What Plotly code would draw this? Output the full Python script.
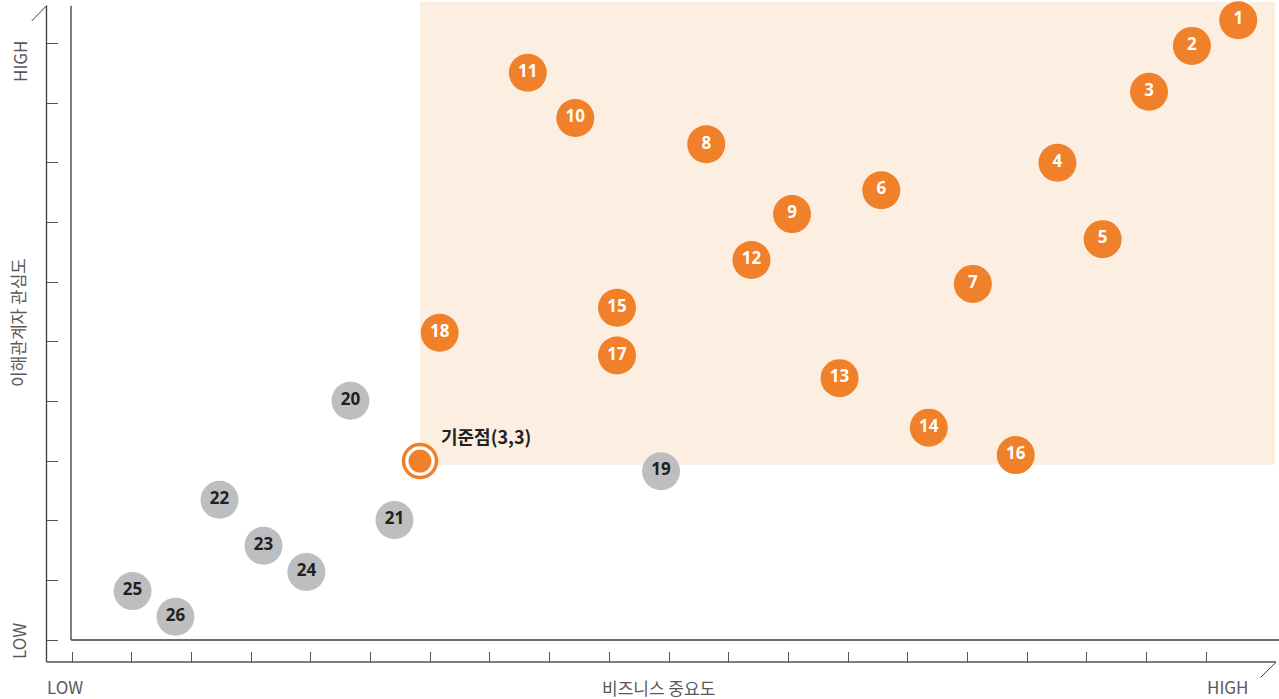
import plotly.graph_objects as go

# ---------------- data ----------------
labels = [str(i) for i in range(1, 27)]
x_vals = [10.06, 9.66, 9.29, 8.50, 8.89, 6.98, 7.77, 5.47, 6.21, 4.34,
          3.93, 5.86, 6.62, 7.39, 4.70, 8.14, 4.70, 3.17, 5.08, 2.40,
          2.78, 1.27, 1.65, 2.02, 0.52, 0.89]
y_vals = [10.39, 9.96, 9.19, 8.00, 6.72, 7.54, 5.97, 8.31, 7.14, 8.75,
          9.51, 6.37, 4.39, 3.56, 5.57, 3.10, 4.77, 5.15, 2.83, 4.01,
          2.01, 2.35, 1.58, 1.14, 0.82, 0.39]
priority = [True] * 18 + [False] * 8   # orange = inside quadrant, grey = outside

ref_x, ref_y = 3, 3
ref_label = "기준점(3,3)"
x_title = "비즈니스 중요도"
y_title = "이해관계자 관심도"
low_label, high_label = "LOW", "HIGH"

# ---------------- style ----------------
ORANGE = "#F0802A"
GREY = "#BDBEC0"
BAND = "#FDEEE2"
DARK = "#231F20"
AXIS = "#3C3C3C"
TXT = "#595959"
KFONT = "Noto Sans CJK KR"

W, H = 1279, 699
ML, MR, MT, MB = 46, 4, 2, 37
PW, PH = W - ML - MR, H - MT - MB
X0PX, XU = 72.3, 115.9
Y0PX, YU = 640.0, 59.65
x_range = [(ML - X0PX) / XU, (W - MR - X0PX) / XU]
y_range = [(Y0PX - (H - MB)) / YU, (Y0PX - MT) / YU]
x_tick_step = 59.67 / XU


def px(xp):
    return (xp - ML) / PW


def py(yp):
    return (H - MB - yp) / PH


fig = go.Figure()

o_idx = [i for i, p in enumerate(priority) if p]
g_idx = [i for i, p in enumerate(priority) if not p]

for idx, col, tcol in [(o_idx, ORANGE, "white"), (g_idx, GREY, DARK)]:
    fig.add_trace(go.Scatter(
        x=[x_vals[i] for i in idx], y=[y_vals[i] for i in idx],
        text=[labels[i] for i in idx], mode="markers+text",
        textposition="middle center",
        marker=dict(size=38, color=col, line=dict(width=0)),
        textfont=dict(family="Open Sans", size=17, color=tcol, weight="bold"),
        hoverinfo="skip", showlegend=False, cliponaxis=False))

# reference point
fig.add_trace(go.Scatter(
    x=[ref_x], y=[ref_y], mode="markers",
    marker=dict(size=33, color="white", line=dict(width=3.5, color=ORANGE)),
    hoverinfo="skip", showlegend=False, cliponaxis=False))
fig.add_trace(go.Scatter(
    x=[ref_x], y=[ref_y], mode="markers",
    marker=dict(size=23, color=ORANGE, line=dict(width=0)),
    hoverinfo="skip", showlegend=False, cliponaxis=False))

shapes = [
    # highlighted quadrant
    dict(type="rect", xref="x", yref="y", x0=ref_x, y0=ref_y - 0.06,
         x1=x_range[1], y1=y_range[1], fillcolor=BAND, line=dict(width=0), layer="below"),
    # inner L axes
    dict(type="line", xref="paper", yref="paper", x0=px(71), x1=px(71),
         y0=py(640), y1=py(5.7), line=dict(color=AXIS, width=1.3)),
    dict(type="line", xref="paper", yref="paper", x0=px(71), x1=px(1279),
         y0=py(640), y1=py(640), line=dict(color=AXIS, width=1.3)),
    # outer axes
    dict(type="line", xref="paper", yref="paper", x0=px(46.5), x1=px(46.5),
         y0=py(662), y1=py(5.7), line=dict(color=AXIS, width=1.3)),
    dict(type="line", xref="paper", yref="paper", x0=px(46.5), x1=px(1276),
         y0=py(662), y1=py(662), line=dict(color="#555555", width=1.3)),
    # break slashes
    dict(type="line", xref="paper", yref="paper", x0=px(31.7), x1=px(46.5),
         y0=py(21), y1=py(5.7), line=dict(color=AXIS, width=1)),
    dict(type="line", xref="paper", yref="paper", x0=px(1260.7), x1=px(1276),
         y0=py(677.3), y1=py(662.3), line=dict(color=AXIS, width=1)),
]


def lab(text, xpix, ypix, angle=0, xanchor="center"):
    return dict(text=text, x=px(xpix), y=py(ypix), xref="paper", yref="paper",
                xanchor=xanchor, yanchor="middle", textangle=angle, showarrow=False,
                font=dict(family=KFONT, size=17, color=TXT))


annotations = [
    dict(text=ref_label, x=ref_x, y=ref_y, xref="x", yref="y", xanchor="left",
         yanchor="middle", xshift=19, yshift=25, showarrow=False,
         font=dict(family=KFONT, size=18, color=DARK, weight="bold")),
    lab(high_label, 19, 62, -90),
    lab(low_label, 18, 641, -90),
    lab(y_title, 17, 323, -90),
    lab(low_label, 45, 686, 0, "left"),
    lab(high_label, 1227, 686),
    lab(x_title, 658, 687),
]

fig.update_layout(
    width=W, height=H,
    margin=dict(l=ML, r=MR, t=MT, b=MB, autoexpand=False),
    paper_bgcolor="white", plot_bgcolor="rgba(0,0,0,0)",
    shapes=shapes, annotations=annotations,
    xaxis=dict(range=x_range, showgrid=False, zeroline=False, showline=False,
               ticks="inside", ticklen=10, tickwidth=1, tickcolor="#555555",
               tickvals=[k * x_tick_step for k in range(20)], showticklabels=False,
               fixedrange=True),
    yaxis=dict(range=y_range, showgrid=False, zeroline=False, showline=False,
               ticks="inside", ticklen=12, tickwidth=1, tickcolor="#555555",
               tickvals=list(range(11)), showticklabels=False, fixedrange=True),
)

fig.write_html(
    "out.html",
    config={"displayModeBar": False},
    post_script="document.body.style.margin='0';document.body.style.overflow='hidden';",
)
